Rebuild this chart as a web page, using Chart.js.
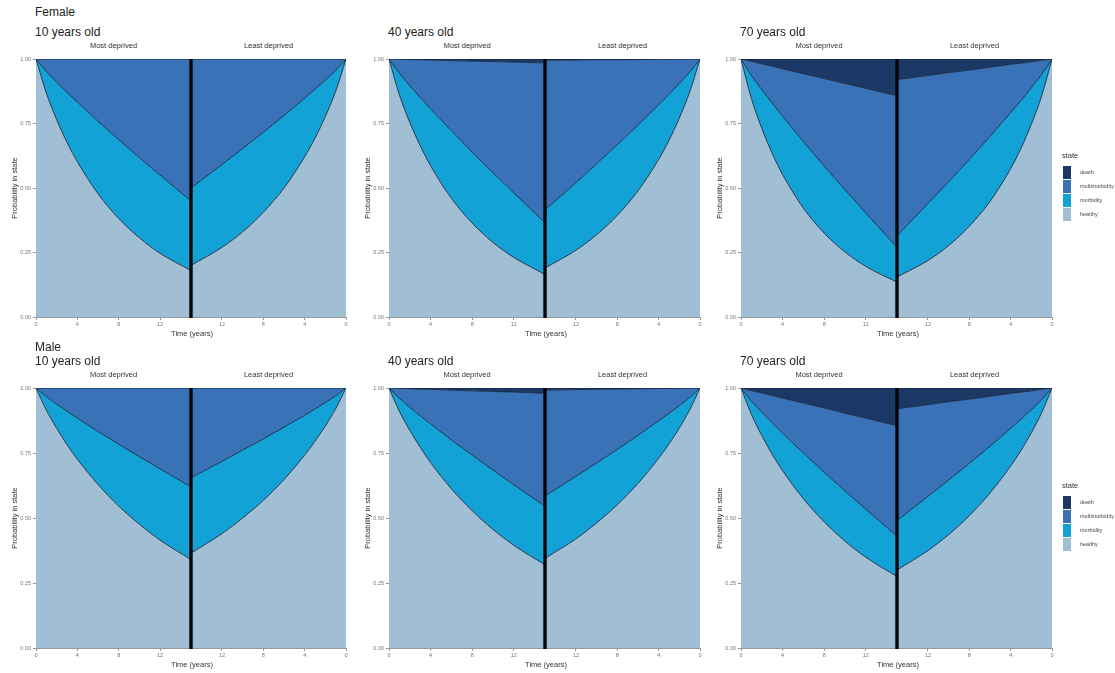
<!DOCTYPE html>
<html>
<head>
<meta charset="utf-8">
<script src="https://cdn.jsdelivr.net/npm/chart.js@4.4.1/dist/chart.umd.min.js"></script>
<style>
  body { margin: 0; background: #fff; font-family: "Liberation Sans", Arial, sans-serif; }
  #page { position: relative; width: 1115px; height: 673px; overflow: hidden; background: #fff; }
  .txt { position: absolute; white-space: nowrap; color: #222; line-height: 1; }
  .mid { transform: translate(-50%, -50%); }
  canvas { position: absolute; }
  .key { position: absolute; width: 8px; height: 13px; }
</style>
</head>
<body>
<div id="page"></div>
<script>
const times = [0, 1, 2, 3, 4, 6, 8, 10, 12, 15]
const xTicks = [0, 4, 8, 12]
const yTicks = [0, 0.25, 0.5, 0.75, 1]
const states = ['healthy', 'morbidity', 'multimorbidity', 'death']
const stateColors = ['#a0bed4', '#12a2d6', '#3a72b8', '#1b3866']
const facetNames = ['Most deprived', 'Least deprived']
const ageNames = ['10 years old', '40 years old', '70 years old']
const sexNames = ['Female', 'Male']

// Female, 10 years old
const f10MostHealthy = [1, .868, .765, .677, .602, .478, .382, .307, .247, .18]
const f10MostMorbidity = [0, .084, .145, .194, .231, .281, .306, .311, .303, .27]
const f10MostMulti = [0, .048, .090, .129, .167, .241, .312, .382, .450, .55]
const f10MostDeath = [0, 0, 0, 0, 0, 0, 0, 0, 0, 0]
const f10LeastHealthy = [1, .875, .777, .693, .621, .500, .406, .330, .270, .20]
const f10LeastMorbidity = [0, .081, .141, .190, .227, .281, .310, .323, .321, .30]
const f10LeastMulti = [0, .044, .082, .117, .152, .219, .284, .347, .409, .50]
const f10LeastDeath = [0, 0, 0, 0, 0, 0, 0, 0, 0, 0]

// Female, 40 years old
const f40MostHealthy = [1, .861, .754, .664, .586, .460, .364, .289, .231, .165]
const f40MostMorbidity = [0, .084, .142, .187, .221, .262, .275, .270, .250, .20]
const f40MostMulti = [0, .054, .102, .146, .189, .272, .353, .431, .507, .62]
const f40MostDeath = [0, .001, .002, .003, .004, .006, .008, .010, .012, .015]
const f40LeastHealthy = [1, .872, .771, .685, .611, .489, .394, .319, .259, .19]
const f40LeastMorbidity = [0, .077, .134, .178, .211, .255, .274, .275, .262, .225]
const f40LeastMulti = [0, .051, .094, .136, .177, .254, .329, .403, .475, .58]
const f40LeastDeath = [0, 0, .001, .001, .001, .002, .003, .003, .004, .005]

// Female, 70 years old
const f70MostHealthy = [1, .847, .731, .634, .552, .422, .325, .252, .196, .135]
const f70MostMorbidity = [0, .089, .150, .195, .226, .258, .260, .241, .207, .135]
const f70MostMulti = [0, .055, .100, .143, .184, .263, .339, .412, .483, .588]
const f70MostDeath = [0, .009, .019, .028, .038, .057, .076, .095, .114, .142]
const f70LeastHealthy = [1, .857, .747, .654, .575, .448, .352, .277, .219, .155]
const f70LeastMorbidity = [0, .083, .141, .185, .217, .252, .259, .247, .221, .16]
const f70LeastMulti = [0, .055, .101, .145, .187, .268, .346, .423, .496, .605]
const f70LeastDeath = [0, .005, .011, .016, .021, .032, .043, .053, .064, .08]

// Male, 10 years old
const m10MostHealthy = [1, .915, .845, .782, .726, .629, .546, .476, .415, .34]
const m10MostMorbidity = [0, .052, .093, .129, .158, .204, .238, .260, .274, .28]
const m10MostMulti = [0, .033, .062, .089, .116, .167, .216, .264, .311, .38]
const m10MostDeath = [0, 0, 0, 0, 0, 0, 0, 0, 0, 0]
const m10LeastHealthy = [1, .920, .854, .795, .742, .648, .568, .500, .440, .365]
const m10LeastMorbidity = [0, .050, .090, .124, .153, .201, .236, .261, .278, .29]
const m10LeastMulti = [0, .030, .056, .081, .105, .151, .196, .239, .282, .345]
const m10LeastDeath = [0, 0, 0, 0, 0, 0, 0, 0, 0, 0]

// Male, 40 years old
const m40MostHealthy = [1, .910, .837, .772, .713, .612, .528, .456, .395, .32]
const m40MostMorbidity = [0, .050, .089, .121, .149, .188, .214, .228, .233, .225]
const m40MostMulti = [0, .039, .071, .103, .133, .192, .247, .303, .356, .435]
const m40MostDeath = [0, .001, .003, .004, .005, .008, .011, .013, .016, .02]
const m40LeastHealthy = [1, .916, .846, .785, .730, .633, .551, .481, .420, .345]
const m40LeastMorbidity = [0, .048, .086, .117, .144, .185, .213, .231, .240, .24]
const m40LeastMulti = [0, .035, .067, .096, .124, .179, .232, .283, .334, .407]
const m40LeastDeath = [0, .001, .001, .002, .002, .003, .004, .005, .006, .008]

// Male, 70 years old
const m70MostHealthy = [1, .899, .817, .745, .682, .574, .485, .411, .349, .275]
const m70MostMorbidity = [0, .051, .090, .121, .144, .176, .191, .193, .185, .155]
const m70MostMulti = [0, .040, .074, .105, .135, .192, .247, .299, .350, .425]
const m70MostDeath = [0, .010, .019, .029, .039, .058, .077, .097, .116, .145]
const m70LeastHealthy = [1, .905, .828, .760, .700, .596, .509, .436, .375, .30]
const m70LeastMorbidity = [0, .050, .089, .120, .145, .180, .201, .210, .208, .19]
const m70LeastMulti = [0, .040, .072, .104, .134, .192, .247, .301, .353, .43]
const m70LeastDeath = [0, .005, .011, .016, .021, .032, .043, .053, .064, .08]

// page geometry of the plot areas
const colLeft = [36, 389, 741]
const colMid = [191, 545, 897]
const colRight = [346, 700, 1052]
const rowTop = [59, 388]
const rowBottom = [317, 648]

const panels = [
  { row: 0, col: 0, most: [f10MostHealthy, f10MostMorbidity, f10MostMulti, f10MostDeath], least: [f10LeastHealthy, f10LeastMorbidity, f10LeastMulti, f10LeastDeath] },
  { row: 0, col: 1, most: [f40MostHealthy, f40MostMorbidity, f40MostMulti, f40MostDeath], least: [f40LeastHealthy, f40LeastMorbidity, f40LeastMulti, f40LeastDeath] },
  { row: 0, col: 2, most: [f70MostHealthy, f70MostMorbidity, f70MostMulti, f70MostDeath], least: [f70LeastHealthy, f70LeastMorbidity, f70LeastMulti, f70LeastDeath] },
  { row: 1, col: 0, most: [m10MostHealthy, m10MostMorbidity, m10MostMulti, m10MostDeath], least: [m10LeastHealthy, m10LeastMorbidity, m10LeastMulti, m10LeastDeath] },
  { row: 1, col: 1, most: [m40MostHealthy, m40MostMorbidity, m40MostMulti, m40MostDeath], least: [m40LeastHealthy, m40LeastMorbidity, m40LeastMulti, m40LeastDeath] },
  { row: 1, col: 2, most: [m70MostHealthy, m70MostMorbidity, m70MostMulti, m70MostDeath], least: [m70LeastHealthy, m70LeastMorbidity, m70LeastMulti, m70LeastDeath] }
]

const page = document.getElementById('page')
Chart.defaults.font.family = '"Liberation Sans", Arial, sans-serif'

function addText (text, x, y, size, extra) {
  const d = document.createElement('div')
  d.className = 'txt' + (extra && extra.mid ? ' mid' : '')
  d.textContent = text
  d.style.left = x + 'px'
  d.style.top = y + 'px'
  d.style.fontSize = size + 'px'
  if (extra && extra.color) d.style.color = extra.color
  page.appendChild(d)
}

// thick black line between the two facets
const divider = {
  id: 'divider',
  afterDatasetsDraw (chart, args, opts) {
    const { ctx, chartArea } = chart
    const x = opts.side === 'most' ? chartArea.right : chartArea.left
    ctx.save()
    ctx.strokeStyle = '#050505'
    ctx.lineWidth = 3.4
    ctx.beginPath()
    ctx.moveTo(x, chartArea.top)
    ctx.lineTo(x, chartArea.bottom + 1)
    ctx.stroke()
    ctx.restore()
  }
}

const TOP_PAD = 6
const Y_AXIS_W = 36
const X_AXIS_H = 14
const RIGHT_PAD = 6

function makeFacet (panel, side) {
  const values = side === 'most' ? panel.most : panel.least
  const L = colLeft[panel.col]
  const C = colMid[panel.col]
  const R = colRight[panel.col]
  const T = rowTop[panel.row]
  const B = rowBottom[panel.row]

  const canvas = document.createElement('canvas')
  let left, width
  if (side === 'most') {
    left = L - Y_AXIS_W
    width = C - L + Y_AXIS_W
  } else {
    left = C
    width = R - C + RIGHT_PAD
  }
  const height = B - T + TOP_PAD + X_AXIS_H
  canvas.width = width
  canvas.height = height
  canvas.style.left = left + 'px'
  canvas.style.top = (T - TOP_PAD) + 'px'
  canvas.style.width = width + 'px'
  canvas.style.height = height + 'px'
  page.appendChild(canvas)

  const datasets = states.map((s, i) => ({
    label: s,
    data: times.map((t, j) => ({ x: t, y: values[i][j] })),
    fill: i === 0 ? 'origin' : '-1',
    backgroundColor: stateColors[i],
    borderColor: '#15263f',
    borderWidth: 0.9,
    pointRadius: 0,
    cubicInterpolationMode: 'monotone'
  }))

  return new Chart(canvas, {
    type: 'line',
    data: { datasets },
    options: {
      responsive: false,
      animation: false,
      layout: { padding: { top: TOP_PAD, right: side === 'least' ? RIGHT_PAD : 0, left: 0, bottom: 0 } },
      plugins: {
        legend: { display: false },
        tooltip: { enabled: false },
        divider: { side }
      },
      scales: {
        x: {
          type: 'linear',
          min: 0,
          max: 15,
          reverse: side === 'least',
          afterBuildTicks: (s) => { s.ticks = xTicks.map(v => ({ value: v })) },
          afterFit: (s) => { s.height = X_AXIS_H },
          ticks: { font: { size: 5.5 }, color: '#777', padding: 1, maxRotation: 0, autoSkip: false },
          grid: { drawOnChartArea: false, tickLength: 3, color: '#999' },
          border: { color: '#999' }
        },
        y: {
          display: side === 'most',
          stacked: true,
          min: 0,
          max: 1,
          afterBuildTicks: (s) => { s.ticks = yTicks.map(v => ({ value: v })) },
          afterFit: (s) => { s.width = side === 'most' ? Y_AXIS_W : 0 },
          ticks: { font: { size: 5.5 }, color: '#777', padding: 2, callback: v => v.toFixed(2) },
          grid: { drawOnChartArea: false, tickLength: 3, color: '#999' },
          border: { color: '#999' },
          title: { display: true, text: 'Probability in state', font: { size: 7.5 }, color: '#333', padding: { top: 10, bottom: 0 } }
        }
      }
    },
    plugins: [divider]
  })
}

panels.forEach(p => {
  makeFacet(p, 'most')
  makeFacet(p, 'least')
  const L = colLeft[p.col]
  const C = colMid[p.col]
  const R = colRight[p.col]
  const B = rowBottom[p.row]
  const T = rowTop[p.row]
  addText(ageNames[p.col], L - 1, T - 33, 12)
  addText(facetNames[0], (L + C) / 2, T - 13, 7.5, { mid: true, color: '#333' })
  addText(facetNames[1], (C + R) / 2, T - 13, 7.5, { mid: true, color: '#333' })
  addText('Time (years)', C + 1, B + 17, 7.5, { mid: true, color: '#333' })
})

addText(sexNames[0], 35, 6, 12)
addText(sexNames[1], 35, 341, 12)

// legends for the state fill
const legendTops = [152, 482]
legendTops.forEach(top => {
  addText('state', 1062, top, 7.5, { color: '#333' })
  const order = [3, 2, 1, 0]
  order.forEach((si, k) => {
    const key = document.createElement('div')
    key.className = 'key'
    key.style.left = '1063px'
    key.style.top = (top + 14 + k * 14) + 'px'
    key.style.background = stateColors[si]
    page.appendChild(key)
    addText(states[si], 1080, top + 18 + k * 14, 5.5, { color: '#444' })
  })
})
</script>
</body>
</html>
